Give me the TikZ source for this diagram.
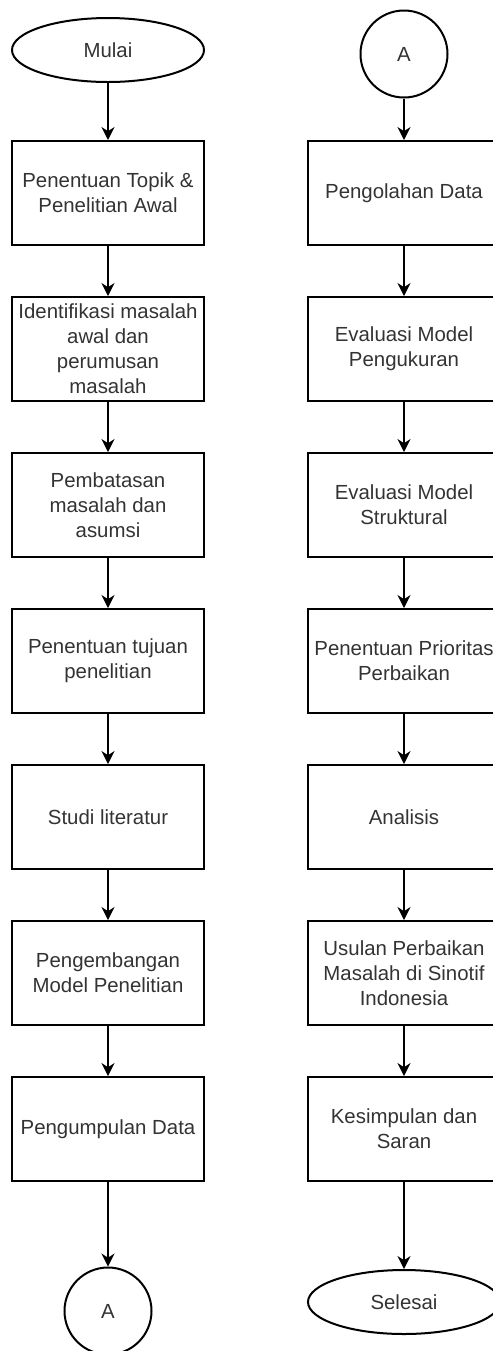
\documentclass[tikz,border=0pt]{standalone}
\usepackage{fontspec}
\setmainfont{Liberation Sans}
\usetikzlibrary{arrows.meta,shapes.geometric}
\tikzset {>={Stealth[length=6.5pt,width=6.5pt]}}
\tikzset{
  proses/.style={draw,rectangle,line width=1pt,minimum width=96pt,minimum height=52pt,
    inner sep=0pt,align=center,text=black!80,font=\fontsize{10.2}{12.5}\selectfont},
  terminal/.style={proses,ellipse,minimum height=32pt},
  konektor/.style={proses,circle,minimum width=43.5pt,minimum height=43.5pt},
  panah/.style={->,line width=1pt}
}

\begin{document}
\begin{tikzpicture}[x=0.5pt,y=-0.5pt]
\useasboundingbox (0,0) rectangle (493,1351);

\node[terminal] (mulai) at (108,50) {Mulai};
\node[proses] (topik) at (108,193) {Penentuan Topik \&\\Penelitian Awal};
\node[proses] (identifikasi) at (108,349) {Identifikasi masalah\\awal dan\\perumusan\\masalah};
\node[proses] (batasan) at (108,505) {Pembatasan\\masalah dan\\asumsi};
\node[proses] (tujuan) at (108,661) {Penentuan tujuan\\penelitian};
\node[proses] (studi) at (108,817) {Studi literatur};
\node[proses] (model) at (108,973) {Pengembangan\\Model Penelitian};
\node[proses] (kumpul) at (108,1129) {Pengumpulan Data};
\node[konektor] (akhirA) at (108,1311) {A};

\node[konektor] (awalA) at (404,54) {A};
\node[proses] (olah) at (404,193) {Pengolahan Data};
\node[proses] (ukur) at (404,349) {Evaluasi Model\\Pengukuran};
\node[proses] (struktur) at (404,505) {Evaluasi Model\\Struktural};
\node[proses] (prioritas) at (404,661) {Penentuan Prioritas\\Perbaikan};
\node[proses] (analisis) at (404,817) {Analisis};
\node[proses] (usulan) at (404,973) {Usulan Perbaikan\\Masalah di Sinotif\\Indonesia};
\node[proses] (simpulan) at (404,1129) {Kesimpulan dan\\Saran};
\node[terminal] (selesai) at (404,1302) {Selesai};

\draw[panah] (mulai) -- (topik);
\draw[panah] (topik) -- (identifikasi);
\draw[panah] (identifikasi) -- (batasan);
\draw[panah] (batasan) -- (tujuan);
\draw[panah] (tujuan) -- (studi);
\draw[panah] (studi) -- (model);
\draw[panah] (model) -- (kumpul);
\draw[panah] (kumpul) -- (akhirA);

\draw[panah] (awalA) -- (olah);
\draw[panah] (olah) -- (ukur);
\draw[panah] (ukur) -- (struktur);
\draw[panah] (struktur) -- (prioritas);
\draw[panah] (prioritas) -- (analisis);
\draw[panah] (analisis) -- (usulan);
\draw[panah] (usulan) -- (simpulan);
\draw[panah] (simpulan) -- (selesai);
\end{tikzpicture}
\end{document}
